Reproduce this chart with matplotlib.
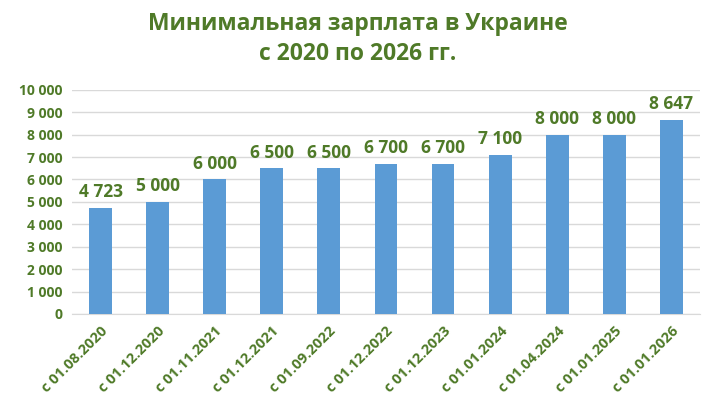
import matplotlib
matplotlib.use("Agg")
import matplotlib.pyplot as plt
import numpy as np

# Данные
dates = ["с 01.08.2020", "с 01.12.2020", "с 01.11.2021", "с 01.12.2021", "с 01.09.2022",
         "с 01.12.2022", "с 01.12.2023", "с 01.01.2024", "с 01.04.2024", "с 01.01.2025",
         "с 01.01.2026"]
salary = [4723, 5000, 6000, 6500, 6500, 6700, 6700, 7100, 8000, 8000, 8647]
y_ticks = list(range(0, 10001, 1000))

green = "#4f7a28"
blue = "#5b9bd5"

plt.rcParams['font.family'] = ['Open Sans', 'DejaVu Sans']

fig = plt.figure(figsize=(7.16, 4.12), dpi=100)
ax = fig.add_axes([0.1006, 0.238, 0.877, 0.544])

x = np.arange(len(dates))
bars = ax.bar(x, salary, width=0.4, color=blue, zorder=3)

def fmt(v):
    return f"{v:,}".replace(",", " ")

for xi, v in zip(x, salary):
    ax.text(xi, v + 300, fmt(v), ha="center", va="bottom", fontsize=12.5,
            fontweight="bold", color=green)

ax.set_ylim(0, 10000)
ax.set_xlim(-0.5, len(dates) - 0.5)
ax.set_yticks(y_ticks)
ax.set_yticklabels([fmt(t) for t in y_ticks], fontsize=10, fontweight="bold", color=green)
ax.set_xticks(x)
ax.set_xticklabels(dates, rotation=45, ha="right", rotation_mode="anchor",
                   fontsize=10.5, fontweight="bold", color=green)
ax.tick_params(length=0, pad=7)
ax.yaxis.grid(True, color="#d9d9d9", linewidth=1, zorder=0)
for s in ["top", "right", "left"]:
    ax.spines[s].set_visible(False)
ax.spines["bottom"].set_color("#d9d9d9")

fig.text(0.5, 0.942, "Минимальная зарплата в Украине", ha="center", va="center",
         fontsize=16.5, fontweight="bold", color=green)
fig.text(0.5, 0.868, "с 2020 по 2026 гг.", ha="center", va="center",
         fontsize=16.5, fontweight="bold", color=green)

fig.savefig("out.png", dpi=100)
